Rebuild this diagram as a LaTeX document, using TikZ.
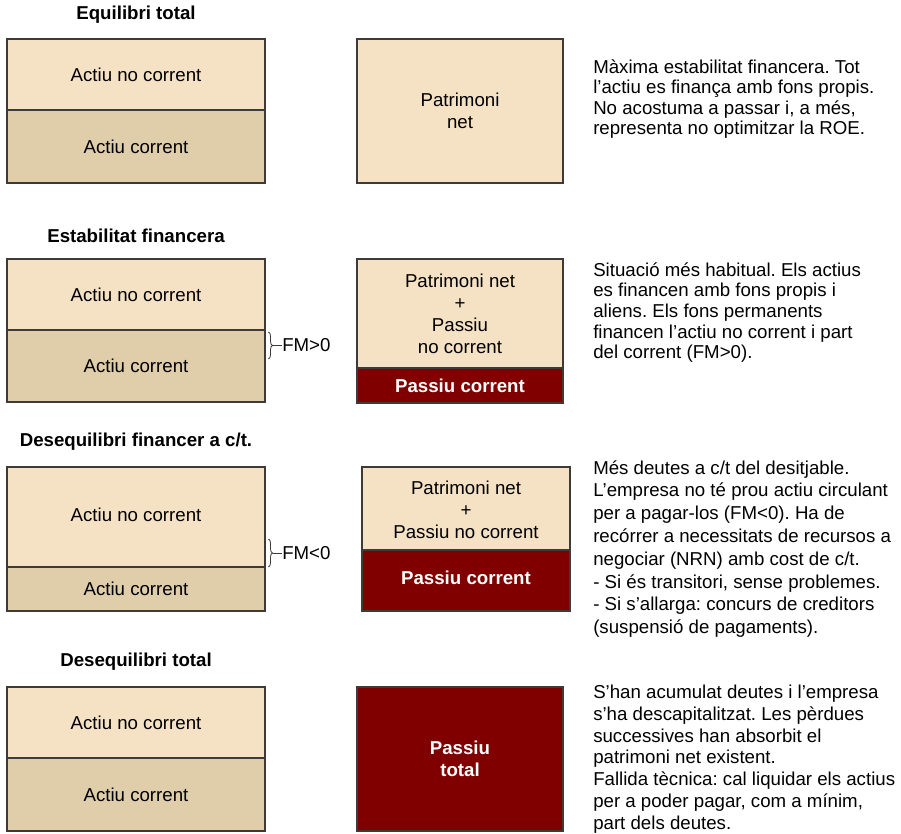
\documentclass[tikz,border=0pt]{standalone}
\usepackage{fontspec}
\setmainfont{Liberation Sans}
\usetikzlibrary{decorations.pathreplacing}
\frenchspacing
\definecolor{lightpart}{RGB}{245,225,195}
\definecolor{tanpart}{RGB}{224,205,170}
\definecolor{darkred}{RGB}{128,0,0}
\definecolor{edgecol}{RGB}{62,58,56}
\tikzset{
  lightfill/.style={fill=lightpart},
  tanfill/.style={fill=tanpart},
  redfill/.style={fill=darkred},
  frame/.style={draw=edgecol, line width=1.1pt},
  splitline/.style={draw=edgecol, line width=1.1pt},
  boxtxt/.style={inner sep=0pt, align=center, font=\fontsize{14}{16.5}\selectfont},
  whitetxt/.style={boxtxt, text=white, font=\fontsize{14}{16.5}\selectfont\bfseries},
  headtxt/.style={inner sep=0pt, font=\fontsize{14}{16}\selectfont\bfseries},
  desctxt/.style={inner sep=0pt, anchor=north west, align=left},
  fmtxt/.style={inner sep=0pt, anchor=west, font=\fontsize{14}{16}\selectfont},
  bracestyle/.style={draw=edgecol, line width=0.6pt, decorate, decoration={brace, amplitude=3pt}},
  ticklink/.style={draw=edgecol, line width=0.6pt},
}
\begin{document}
\begin{tikzpicture}[x=0.75pt, y=-0.75pt]
\useasboundingbox (0,0) rectangle (901,834);

% ---------------- Section 1 ----------------
\node[headtxt] (h1) at (136,15) {Equilibri total};
\path[lightfill] (7,39) rectangle (265,110);
\path[tanfill] (7,110) rectangle (265,183);
\draw[splitline] (7,110) -- (265,110);
\draw[frame] (7,39) rectangle (265,183);
\node[boxtxt] (s1anc) at (136,74.5) {Actiu no corrent};
\node[boxtxt] (s1ac) at (136,146.5) {Actiu corrent};
\path[lightfill] (357,39) rectangle (563,183);
\draw[frame] (357,39) rectangle (563,183);
\node[boxtxt] (s1pn) at (460,111) {Patrimoni\\net};
\node[desctxt, font=\fontsize{14}{15.4}\selectfont] (s1d) at (593,59) {Màxima estabilitat financera. Tot\\l’actiu es finança amb fons propis.\\No acostuma a passar i, a més,\\representa no optimitzar la ROE.};

% ---------------- Section 2 ----------------
\node[headtxt] (h2) at (136,236) {Estabilitat financera};
\path[lightfill] (7,259) rectangle (265,330);
\path[tanfill] (7,330) rectangle (265,402);
\draw[splitline] (7,330) -- (265,330);
\draw[frame] (7,259) rectangle (265,402);
\node[boxtxt] (s2anc) at (136,294.5) {Actiu no corrent};
\node[boxtxt] (s2ac) at (136,366) {Actiu corrent};
\path[lightfill] (357,259) rectangle (563,368);
\path[redfill] (357,368) rectangle (563,403);
\draw[splitline] (357,368) -- (563,368);
\draw[frame] (357,259) rectangle (563,403);
\node[boxtxt] (s2pn) at (460,313.5) {Patrimoni net\\+\\Passiu\\no corrent};
\node[whitetxt] (s2pc) at (460,385.5) {Passiu corrent};
\coordinate (b2a) at (268.5,332);
\coordinate (b2b) at (268.5,359);
\draw[bracestyle] (b2a) -- (b2b);
\coordinate (b2tip) at (272.5,345.5);
\node[fmtxt] (fm2) at (282,345.5) {FM>0};
\draw[ticklink] (b2tip) -- (fm2.west);
\node[desctxt, font=\fontsize{14}{15.5}\selectfont] (s2d) at (593,262) {Situació més habitual. Els actius\\es financen amb fons propis i\\aliens. Els fons permanents\\financen l’actiu no corrent i part\\del corrent (FM>0).};

% ---------------- Section 3 ----------------
\node[headtxt] (h3) at (136,442) {Desequilibri financer a c/t.};
\path[lightfill] (7,467) rectangle (265,567);
\path[tanfill] (7,567) rectangle (265,611);
\draw[splitline] (7,567) -- (265,567);
\draw[frame] (7,467) rectangle (265,611);
\node[boxtxt] (s3anc) at (136,515) {Actiu no corrent};
\node[boxtxt] (s3ac) at (136,589) {Actiu corrent};
\path[lightfill] (362,467) rectangle (570,550);
\path[redfill] (362,550) rectangle (570,611);
\draw[splitline] (362,550) -- (570,550);
\draw[frame] (362,467) rectangle (570,611);
\node[boxtxt] (s3pn) at (466,510) {Patrimoni net\\+\\Passiu no corrent};
\node[whitetxt] (s3pc) at (466,578) {Passiu corrent};
\coordinate (b3a) at (268.5,539);
\coordinate (b3b) at (268.5,567);
\draw[bracestyle] (b3a) -- (b3b);
\coordinate (b3tip) at (272.5,553);
\node[fmtxt] (fm3) at (282,553) {FM<0};
\draw[ticklink] (b3tip) -- (fm3.west);
\node[desctxt, font=\fontsize{14}{17.1}\selectfont] (s3d) at (593,460) {Més deutes a c/t del desitjable.\\L’empresa no té prou actiu circulant\\per a pagar-los (FM<0). Ha de\\recórrer a necessitats de recursos a\\negociar (NRN) amb cost de c/t.\\- Si és transitori, sense problemes.\\- Si s’allarga: concurs de creditors\\(suspensió de pagaments).};

% ---------------- Section 4 ----------------
\node[headtxt] (h4) at (136,662) {Desequilibri total};
\path[lightfill] (7,687) rectangle (265,758);
\path[tanfill] (7,758) rectangle (265,831);
\draw[splitline] (7,758) -- (265,758);
\draw[frame] (7,687) rectangle (265,831);
\node[boxtxt] (s4anc) at (136,722.5) {Actiu no corrent};
\node[boxtxt] (s4ac) at (136,794.5) {Actiu corrent};
\path[redfill] (357,687) rectangle (563,831);
\draw[frame] (357,687) rectangle (563,831);
\node[whitetxt] (s4pt) at (460,759) {Passiu\\total};
\node[desctxt, font=\fontsize{14}{16.3}\selectfont] (s4d) at (593,685) {S’han acumulat deutes i l’empresa\\s’ha descapitalitzat. Les pèrdues\\successives han absorbit el\\patrimoni net existent.\\Fallida tècnica: cal liquidar els actius\\per a poder pagar, com a mínim,\\part dels deutes.};
\end{tikzpicture}
\end{document}
